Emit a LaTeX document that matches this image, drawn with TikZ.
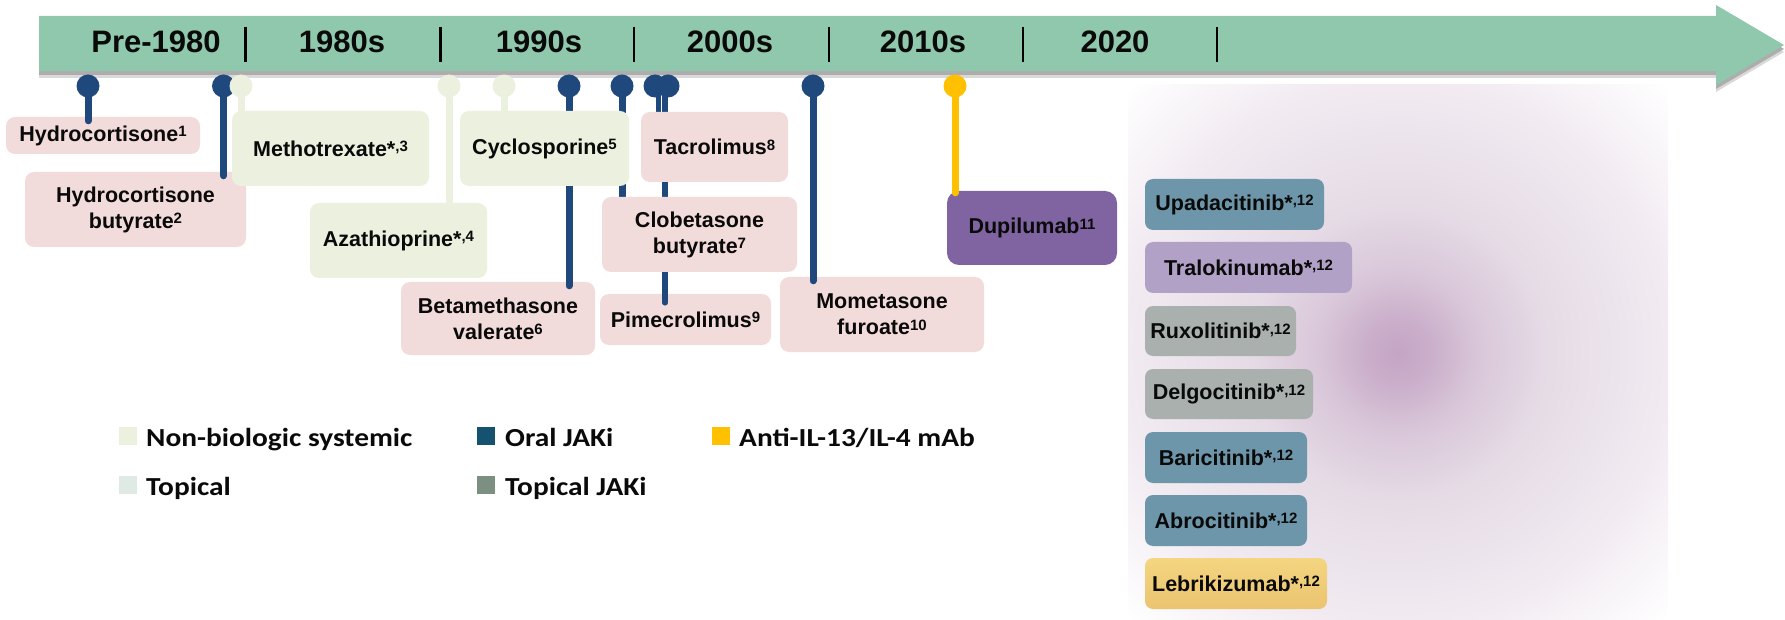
\documentclass[tikz,border=0pt]{standalone}
\usepackage{fontspec}
\setmainfont{Liberation Sans}
\newfontfamily\legfont[FakeStretch=1.13]{Carlito}
\usetikzlibrary{calc}
\definecolor{bandc}{RGB}{144,200,173}
\definecolor{navy}{RGB}{31,73,125}
\definecolor{pinkc}{RGB}{242,220,219}
\definecolor{greenc}{RGB}{235,241,222}
\definecolor{yelc}{RGB}{255,192,0}
\definecolor{dupc}{RGB}{128,100,162}
\definecolor{jakb}{RGB}{109,150,170}
\definecolor{tralc}{RGB}{178,161,199}
\definecolor{greyc}{RGB}{169,176,174}
\definecolor{lebtop}{RGB}{244,213,128}
\definecolor{lebbot}{RGB}{235,196,112}
\definecolor{oralc}{RGB}{20,82,112}
\definecolor{topc}{RGB}{222,234,227}
\definecolor{topjc}{RGB}{124,143,128}
\definecolor{txt}{RGB}{10,10,10}
% 25bp of this shading spans half of the panel width
\pgfdeclareradialshading{panelshade}{\pgfpoint{0bp}{0bp}}{rgb(0bp)=(0.77,0.65,0.77); rgb(2.8bp)=(0.79,0.68,0.79); rgb(7.4bp)=(0.85,0.78,0.85); rgb(13.9bp)=(0.90,0.86,0.90); rgb(21.3bp)=(0.93,0.90,0.93); rgb(25bp)=(0.945,0.92,0.945); rgb(29.6bp)=(0.97,0.955,0.97); rgb(35.2bp)=(1,1,1); rgb(50bp)=(1,1,1)}
\pgfdeclarelayer{back}
\pgfdeclarelayer{lowbox}
\pgfdeclarelayer{stemlayer}
\pgfsetlayers{back,lowbox,stemlayer,main}
\newcommand\sps[1]{\raisebox{4.5pt}{\fontsize{15}{15}\selectfont #1}}
\tikzset{
  yr/.style={anchor=base, font=\bfseries\fontsize{31}{31}\selectfont, text=txt, inner sep=0},
  sep/.style={line width=2.5pt, black},
  box/.style={rounded corners=9pt, inner sep=0, align=center, text=txt,
    font=\bfseries\fontsize{21.5}{26}\selectfont},
  pinkbox/.style={box, fill=pinkc},
  greenbox/.style={box, fill=greenc},
  rbox/.style={box, rounded corners=8pt},
  pinnode/.style={circle, minimum size=23pt, inner sep=0},
  stem/.style={line width=7pt, line cap=round},
  thinstem/.style={line width=5.5pt, line cap=round},
  legsq/.style={minimum size=18pt, inner sep=0},
  legtxt/.style={anchor=base west, inner sep=0, text=txt, font=\legfont\bfseries\fontsize{26}{26}\selectfont}
}
\begin{document}
\begin{tikzpicture}[x=1pt,y=-1pt]
\useasboundingbox (0,0) rectangle (1785,620);
\begin{pgfonlayer}{back}
  % right panel: soft lilac glow
  \shade[shading=panelshade] (1128,85) rectangle (1668,620);
  % timeline band with shadow
  \fill[black!15] (39,23) -- (1716,23) -- (1716,12) -- (1784,52) -- (1716,92) -- (1716,78) -- (39,78) -- cycle;
  \fill[black!32] (39,20) -- (1716,20) -- (1716,9) -- (1784,49) -- (1716,89) -- (1716,75) -- (39,75) -- cycle;
  \fill[bandc] (39,16) -- (1716,16) -- (1716,5) -- (1784,45) -- (1716,85) -- (1716,71) -- (39,71) -- cycle;
\end{pgfonlayer}
% era labels and separators
\node[yr] (e1) at (156,53) {Pre-1980};
\node[yr] (e2) at (342,53) {1980s};
\node[yr] (e3) at (539,53) {1990s};
\node[yr] (e4) at (730,53) {2000s};
\node[yr] (e5) at (923,53) {2010s};
\node[yr] (e6) at (1115,53) {2020};
\foreach \x in {245.5,440.5,634,829,1023,1217} \draw[sep] (\x,27) -- (\x,62);
% boxes that lie under stems
\begin{pgfonlayer}{lowbox}
  \node[pinkbox, minimum width=194pt, minimum height=37pt] (b1) at (103,135.5) {Hydrocortisone\sps{1}};
  \node[pinkbox, minimum width=221pt, minimum height=75pt] (b2) at (135.5,209.5) {Hydrocortisone\\butyrate\sps{2}};
  \node[greenbox, minimum width=197pt, minimum height=75pt] (b3) at (330.5,148.5) {Methotrexate*\sps{,3}};
  \node[greenbox, minimum width=177pt, minimum height=75pt] (b4) at (398.5,240.5) {Azathioprine*\sps{,4}};
  \node[pinkbox, minimum width=194pt, minimum height=73pt] (b6) at (498,318.5) {Betamethasone\\valerate\sps{6}};
  \node[pinkbox, minimum width=171pt, minimum height=51pt] (b9) at (685.5,319.5) {Pimecrolimus\sps{9}};
  \node[pinkbox, minimum width=204pt, minimum height=75pt] (b10) at (882,314.5) {Mometasone\\furoate\sps{10}};
  \node[box, fill=dupc, rounded corners=12pt, minimum width=170pt, minimum height=74pt] (b11) at (1032,228) {Dupilumab\sps{11}};
\end{pgfonlayer}
% boxes over stems
\node[greenbox, minimum width=169pt, minimum height=75pt] (b5) at (544.5,148.5) {Cyclosporine\sps{5}};
\node[pinkbox, minimum width=195pt, minimum height=75pt] (b7) at (699.5,234.5) {Clobetasone\\butyrate\sps{7}};
\node[pinkbox, minimum width=147pt, minimum height=70pt] (b8) at (714.5,147) {Tacrolimus\sps{8}};
% pins
\node[pinnode, fill=navy] (p1) at (88,86) {};
\node[pinnode, fill=navy] (p2) at (223.5,86) {};
\node[pinnode, fill=greenc] (p3) at (241,86) {};
\node[pinnode, fill=greenc] (p4) at (449,86) {};
\node[pinnode, fill=greenc] (p5) at (504,86) {};
\node[pinnode, fill=navy] (p6) at (569,86) {};
\node[pinnode, fill=navy] (p7) at (622,86) {};
\node[pinnode, fill=navy] (p8) at (655,86) {};
\node[pinnode, fill=navy] (p9) at (668,86) {};
\node[pinnode, fill=navy] (p10) at (813,86) {};
\node[pinnode, fill=yelc] (p11) at (955,86) {};
% stems
\begin{pgfonlayer}{stemlayer}
  \draw[stem, navy] (p1.center) -- ([yshift=-4pt]p1 |- b1.north);
  \draw[stem, navy] (p2.center) -- ([yshift=-4pt]p2 |- b2.north);
  \draw[stem, greenc] (p3.center) -- ([yshift=-4pt]p3 |- b3.north);
  \draw[stem, greenc] (p4.center) -- ([yshift=-4pt]p4 |- b4.north);
  \draw[stem, greenc] (p5.center) -- ([yshift=-4pt]p5 |- b5.north);
  \draw[stem, navy] (p6.center) -- ([yshift=-4pt]p6 |- b6.north);
  \draw[stem, navy] (p7.center) -- ([yshift=-4pt]p7 |- b7.north);
  \draw[thinstem, navy] ([xshift=3.5pt]p8.center) -- ([xshift=3.5pt,yshift=-4pt]p8 |- b8.north);
  \draw[thinstem, navy] ([xshift=-3pt]p9.center) -- ([xshift=-3pt,yshift=-9pt]p9 |- b9.north);
  \draw[stem, navy] (p10.center) -- ([yshift=-4pt]p10 |- b10.north);
  \draw[stem, yelc] (p11.center) -- ([yshift=-2pt]p11 |- b11.north);
\end{pgfonlayer}
% right-hand list
\node[rbox, fill=jakb, minimum width=179pt, minimum height=51pt] (r1) at (1234.5,204.5) {Upadacitinib*\sps{,12}};
\node[rbox, fill=tralc, minimum width=207pt, minimum height=51pt] (r2) at (1248.5,267.5) {Tralokinumab*\sps{,12}};
\node[rbox, fill=greyc, minimum width=151pt, minimum height=50pt] (r3) at (1220.5,331) {Ruxolitinib*\sps{,12}};
\node[rbox, fill=greyc, minimum width=168pt, minimum height=50pt] (r4) at (1229,394) {Delgocitinib*\sps{,12}};
\node[rbox, fill=jakb, minimum width=162pt, minimum height=51pt] (r5) at (1226,457.5) {Baricitinib*\sps{,12}};
\node[rbox, fill=jakb, minimum width=162pt, minimum height=51pt] (r6) at (1226,520.5) {Abrocitinib*\sps{,12}};
\node[rbox, top color=lebtop, bottom color=lebbot, minimum width=182pt, minimum height=51pt] (r7) at (1236,583.5) {Lebrikizumab*\sps{,12}};
% legend
\node[legsq, fill=greenc] (l1) at (127.5,436) {};
\node[legtxt] (t1) at (146,446) {Non-biologic systemic};
\node[legsq, fill=oralc] (l2) at (486,436) {};
\node[legtxt] (t2) at (505,446) {Oral JAKi};
\node[legsq, fill=yelc] (l3) at (721,436) {};
\node[legtxt] (t3) at (739,446) {Anti-IL-13/IL-4 mAb};
\node[legsq, fill=topc] (l4) at (127.5,485) {};
\node[legtxt] (t4) at (146,495) {Topical};
\node[legsq, fill=topjc] (l5) at (486,485) {};
\node[legtxt] (t5) at (505,495) {Topical JAKi};
\end{tikzpicture}
\end{document}
